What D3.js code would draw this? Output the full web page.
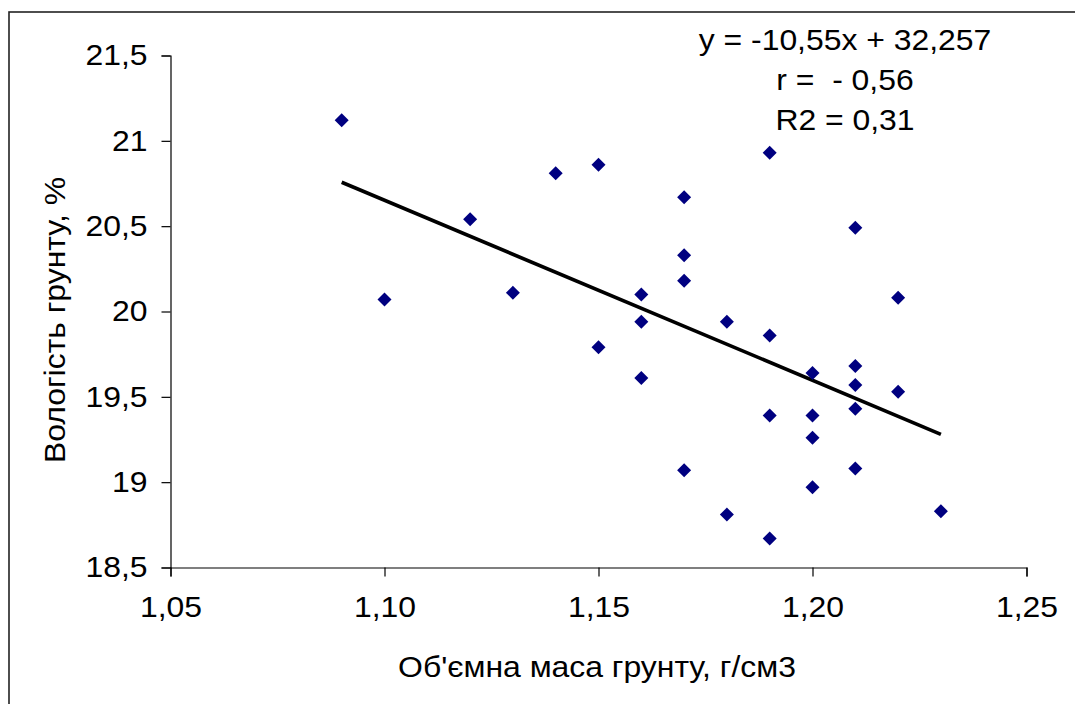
<!DOCTYPE html>
<html>
<head>
<meta charset="utf-8">
<script src="https://cdn.jsdelivr.net/npm/d3@7"></script>
<style>
  html, body { margin: 0; padding: 0; background: #fff; overflow: hidden; }
  svg { display: block; font-family: Arial, "Liberation Sans", sans-serif; }
</style>
</head>
<body>
<svg id="chart" width="1075" height="704"></svg>
<script>
// Bulk density of soil (x) vs soil moisture (y)
const density = [
  1.09, 1.10, 1.12, 1.13, 1.14, 1.15, 1.15, 1.16, 1.16, 1.16,
  1.17, 1.17, 1.17, 1.17, 1.18, 1.18, 1.19, 1.19, 1.19, 1.19,
  1.20, 1.20, 1.20, 1.20, 1.21, 1.21, 1.21, 1.21, 1.21, 1.22,
  1.22, 1.23
];
const moisture = [
  21.12, 20.07, 20.54, 20.11, 20.81, 20.86, 19.79, 20.10, 19.94, 19.61,
  20.67, 20.33, 20.18, 19.07, 19.94, 18.81, 20.93, 19.86, 19.39, 18.67,
  19.64, 19.39, 19.26, 18.97, 20.49, 19.68, 19.57, 19.43, 19.08, 20.08,
  19.53, 18.83
];

// trend line from the equation shown on the chart
const slope = -10.55;
const intercept = 32.257;
const equationLines = ["y = -10,55x + 32,257", "r =  - 0,56", "R2 = 0,31"];

const xTicks = [1.05, 1.10, 1.15, 1.20, 1.25];
const yTicks = [18.5, 19, 19.5, 20, 20.5, 21, 21.5];

const xTitle = "Об'ємна маса грунту, г/см3";
const yTitle = "Вологість грунту, %";

const svg = d3.select("#chart");
const margin = { left: 170.5, right: 1026.5, top: 55.5, bottom: 567.5 };
const fontSize = 29;
const stretch = 1.1; // the original text is a little wider than Arial

const x = d3.scaleLinear().domain([1.05, 1.25]).range([margin.left, margin.right]);
const y = d3.scaleLinear().domain([18.5, 21.5]).range([margin.bottom, margin.top]);

const comma = (d, digits) => d3.format("." + digits + "f")(d).replace(".", ",");

// outer chart border (runs past the bottom/right of the crop)
svg.append("rect")
  .attr("x", 9).attr("y", 12)
  .attr("width", 1100).attr("height", 760)
  .attr("fill", "#fff")
  .attr("stroke", "#222")
  .attr("stroke-width", 1.6);

// axes
const xAxis = d3.axisBottom(x)
  .tickValues(xTicks)
  .tickSize(9)
  .tickPadding(20)
  .tickFormat((d) => comma(d, 2));

const yAxis = d3.axisLeft(y)
  .tickValues(yTicks)
  .tickSize(9)
  .tickPadding(14)
  .tickFormat((d) => (d % 1 === 0 ? String(d) : comma(d, 1)));

const gx = svg.append("g")
  .attr("transform", `translate(0,${margin.bottom})`)
  .call(xAxis);
const gy = svg.append("g")
  .attr("transform", `translate(${margin.left},0)`)
  .call(yAxis);

[gx, gy].forEach((g) => {
  g.select(".domain").attr("stroke", "#000").attr("stroke-width", 1.2);
  g.selectAll(".tick line").attr("stroke", "#000").attr("stroke-width", 1.2);
  g.selectAll(".tick text")
    .attr("fill", "#000")
    .attr("font-size", fontSize)
    .attr("font-family", 'Arial, "Liberation Sans", sans-serif');
});

// widen tick labels around their anchor
gx.selectAll(".tick text").attr("transform", `scale(${stretch},1)`);
gy.selectAll(".tick text").each(function () {
  const t = d3.select(this);
  const tx = +t.attr("x");
  t.attr("x", 0).attr("transform", `translate(${tx},0) scale(${stretch},1)`);
});

// axis titles
svg.append("text")
  .attr("transform", `translate(597,677) scale(${stretch},1)`)
  .attr("text-anchor", "middle")
  .attr("font-size", fontSize)
  .attr("fill", "#000")
  .text(xTitle);

svg.append("text")
  .attr("transform", `translate(65,320) rotate(-90) scale(${stretch},1)`)
  .attr("text-anchor", "middle")
  .attr("font-size", fontSize)
  .attr("fill", "#000")
  .text(yTitle);

// trend line
const x0 = d3.min(density);
const x1 = d3.max(density);
svg.append("line")
  .attr("x1", x(x0)).attr("y1", y(slope * x0 + intercept))
  .attr("x2", x(x1)).attr("y2", y(slope * x1 + intercept))
  .attr("stroke", "#000")
  .attr("stroke-width", 3.6);

// points
const diamond = d3.symbol().type(d3.symbolSquare).size(98);
svg.append("g")
  .selectAll("path")
  .data(density.map((d, i) => [d, moisture[i]]))
  .join("path")
  .attr("d", diamond)
  .attr("transform", (d) => `translate(${x(d[0])},${y(d[1])}) rotate(45)`)
  .attr("fill", "#000080");

// equation box
svg.append("g")
  .selectAll("text")
  .data(equationLines)
  .join("text")
  .attr("transform", (d, i) => `translate(845,${50 + i * 40}) scale(${stretch},1)`)
  .attr("text-anchor", "middle")
  .attr("font-size", fontSize)
  .attr("fill", "#000")
  .style("white-space", "pre")
  .text((d) => d);
</script>
</body>
</html>
